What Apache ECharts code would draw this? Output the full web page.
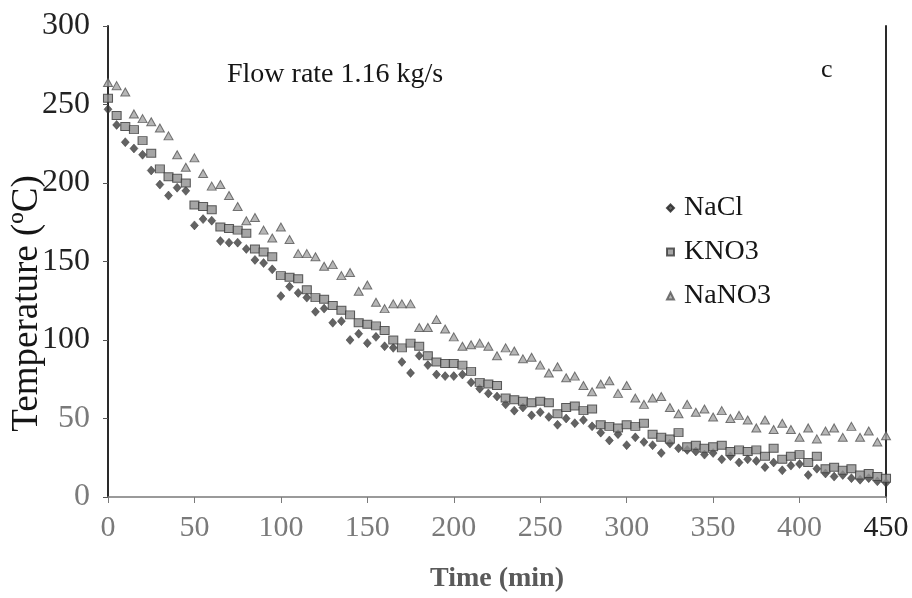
<!DOCTYPE html>
<html>
<head>
<meta charset="utf-8">
<script src="https://cdn.jsdelivr.net/npm/echarts@6/dist/echarts.min.js"></script>
<style>
  html, body { margin: 0; padding: 0; background: #fff; }
  #chart { width: 912px; height: 598px; }
</style>
</head>
<body>
<div id="chart"></div>
<script>
// Sampling times (min)
const times = [0,5,10,15,20,25,30,35,40,45,50,55,60,65,70,75,80,85,90,95,
  100,105,110,115,120,125,130,135,140,145,150,155,160,165,170,175,180,185,190,195,
  200,205,210,215,220,225,230,235,240,245,250,255,260,265,270,275,280,285,290,295,
  300,305,310,315,320,325,330,335,340,345,350,355,360,365,370,375,380,385,390,395,
  400,405,410,415,420,425,430,435,440,445,450];

// Salt temperatures (°C) at each sampling time
const naclTemp = [247,237,226,222,218,208,199,192,197,195,173,177,176,163,162,162,158,151,149,145,
  128,134,130,127,118,120,111,112,100,104,98,102,96,95,86,79,90,84,78,77,
  77,78,73,69,66,64,59,55,57,52,54,51,46,50,47,49,45,41,36,40,
  33,38,35,33,28,34,31,30,29,27,28,24,26,22,24,23,19,22,17,20,
  21,14,18,15,13,14,12,11,12,10,9];

const kno3Temp = [254,243,236,234,227,219,209,204,203,200,186,185,183,172,171,170,168,158,156,153,
  141,140,139,132,127,126,122,119,116,111,110,109,106,100,95,98,96,90,86,85,
  85,84,80,73,72,71,63,62,61,60,61,60,53,57,58,55,56,46,45,44,
  46,45,47,40,38,37,41,32,33,31,32,33,29,30,29,30,26,31,24,26,
  27,22,26,18,19,17,18,14,15,13,12];

const nano3Temp = [264,262,258,244,241,239,235,230,218,210,216,206,198,199,192,185,176,178,170,165,
  172,164,155,155,153,147,148,141,143,131,135,124,120,123,123,123,108,108,113,107,
  102,96,97,98,96,90,95,93,88,89,84,79,83,76,77,71,67,72,74,66,
  71,63,59,63,64,57,53,59,54,56,51,55,50,52,49,44,49,43,47,43,
  38,44,37,42,44,38,45,38,42,35,39];

// Axis ticks
const xTicks = { min: 0, max: 450, step: 50 };
const yTicks = { min: 0, max: 300, step: 50 };

const seriesNames = ['NaCl', 'KNO3', 'NaNO3'];

const serif = '"Liberation Serif", "DejaVu Serif", serif';
const pair = (vals) => times.map((t, i) => [t, vals[i]]);

const chart = echarts.init(document.getElementById('chart'), null, { renderer: 'canvas' });

chart.setOption({
  backgroundColor: '#ffffff',
  animation: false,
  title: [
    {
      text: 'Flow rate 1.16 kg/s',
      left: 222, top: 56,
      textStyle: { fontFamily: serif, fontSize: 28, fontWeight: 'normal', color: '#151515' }
    },
    {
      text: 'c',
      left: 816, top: 52,
      textStyle: { fontFamily: serif, fontSize: 26, fontWeight: 'normal', color: '#151515' }
    }
  ],
  legend: {
    orient: 'vertical',
    left: 661, top: 188,
    itemWidth: 7, itemHeight: 7,
    itemGap: 14,
    data: seriesNames,
    textStyle: { fontFamily: serif, fontSize: 28, color: '#151515', lineHeight: 30, padding: [0, 0, 0, 5] }
  },
  grid: { left: 108, right: 26, top: 26, bottom: 101, outerBoundsMode: 'none', containLabel: false },
  xAxis: {
    type: 'value',
    min: xTicks.min, max: xTicks.max, interval: xTicks.step,
    name: 'Time (min)',
    nameLocation: 'middle',
    nameGap: 68,
    nameMoveOverlap: false,
    nameTextStyle: { fontFamily: serif, fontSize: 28, fontWeight: 'bold', color: '#5a5a5a' },
    axisLine: { lineStyle: { color: '#7a7a7a', width: 1.5 } },
    axisTick: { length: 6, lineStyle: { color: '#7a7a7a' } },
    splitLine: { show: false },
    axisLabel: {
      fontFamily: serif, fontSize: 30, margin: 16,
      color: (v) => (Number(v) === 450 ? '#222' : '#7a7a7a')
    }
  },
  yAxis: [
    {
      type: 'value',
      min: yTicks.min, max: yTicks.max, interval: yTicks.step,
      name: 'Temperature (ºC)',
      nameLocation: 'middle',
      nameRotate: 90,
      nameGap: 62,
      nameMoveOverlap: false,
      nameTextStyle: { fontFamily: serif, fontSize: 37, color: '#151515', padding: [0, 84, 0, 0] },
      axisLine: { lineStyle: { color: '#2a2a2a', width: 2 } },
      axisTick: { length: 5, lineStyle: { color: '#555' } },
      splitLine: { show: false },
      axisLabel: {
        fontFamily: serif, fontSize: 32, margin: 18,
        color: (v) => (Number(v) >= 100 ? '#222' : '#7a7a7a')
      }
    },
    {
      type: 'value',
      position: 'right',
      min: yTicks.min, max: yTicks.max, interval: yTicks.step,
      axisLine: { show: true, lineStyle: { color: '#2a2a2a', width: 2 } },
      axisTick: { show: false },
      axisLabel: { show: false },
      splitLine: { show: false }
    }
  ],
  series: [
    {
      name: 'NaCl',
      type: 'scatter',
      symbol: 'diamond',
      symbolSize: [8, 9],
      itemStyle: { color: '#3c3c3c', borderColor: '#222', borderWidth: 0.5 },
      data: pair(naclTemp),
      z: 2
    },
    {
      name: 'KNO3',
      type: 'scatter',
      symbol: 'rect',
      symbolSize: [9, 8],
      itemStyle: { color: '#8e8e8e', borderColor: '#3a3a3a', borderWidth: 1 },
      data: pair(kno3Temp),
      z: 3
    },
    {
      name: 'NaNO3',
      type: 'scatter',
      symbol: 'triangle',
      symbolSize: [9, 8],
      itemStyle: { color: '#a4a4a4', borderColor: '#555', borderWidth: 1 },
      data: pair(nano3Temp),
      z: 4
    }
  ]
});
</script>
</body>
</html>
